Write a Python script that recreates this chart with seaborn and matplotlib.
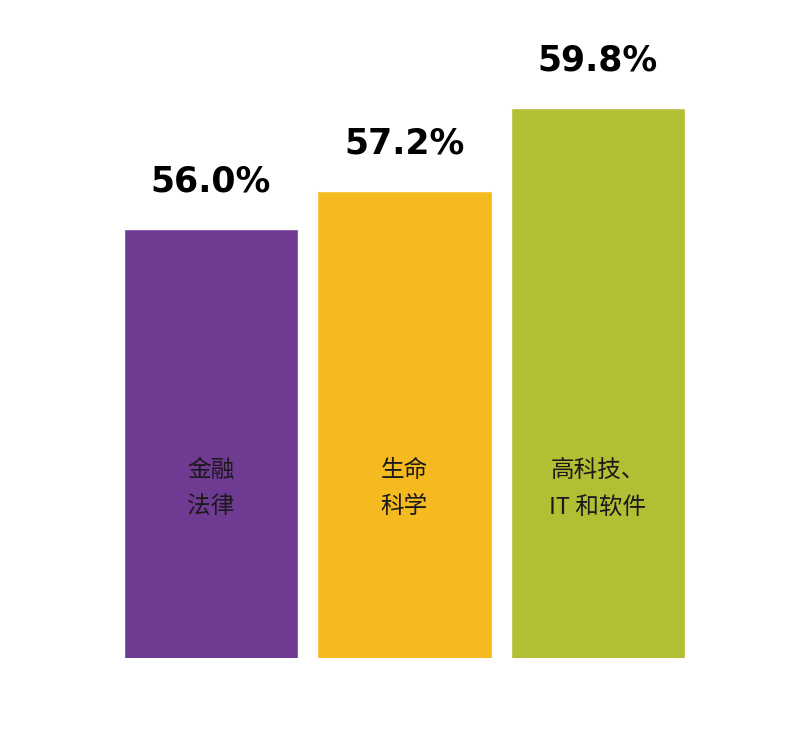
import numpy as np
import matplotlib
matplotlib.use("Agg")
import matplotlib.pyplot as plt
import pandas as pd
import seaborn as sns

# Chart data
categories = ["金融\n法律", "生命\n科学", "高科技、\nIT 和软件"]
values = [56.0, 57.2, 59.8]
colors = ["#6F3A92", "#F6BA21", "#B2BE33"]

sns.set_style("white")
plt.rcParams["font.family"] = ["Noto Sans CJK SC", "DejaVu Sans"]

df = pd.DataFrame({"category": categories, "value": values})

fig = plt.figure(figsize=(8, 7.5), dpi=100)
ax = fig.add_axes([0.1425, 0.1227, 0.726, 0.80])

sns.barplot(data=df, x="category", y="value", hue="category",
            palette=colors, width=0.9, saturation=1, legend=False, ax=ax)

# truncated value axis (bars do not start at zero)
base = 42.57
ax.set_ylim(base, base + 0.80 * 750 / 31.93)
ax.set_xlim(-0.5, 2.5)

for i, v in enumerate(values):
    ax.text(i, v + 0.95, f"{v:.1f}%", ha="center", va="bottom",
            fontsize=25, fontweight="bold", color="black",
            family="DejaVu Sans")
    ax.text(i, base + 5.3, categories[i], ha="center", va="center",
            fontsize=17, color="#1a1a1a", linespacing=1.75)

ax.set_axis_off()
fig.savefig("out.png", dpi=100, facecolor="white")
